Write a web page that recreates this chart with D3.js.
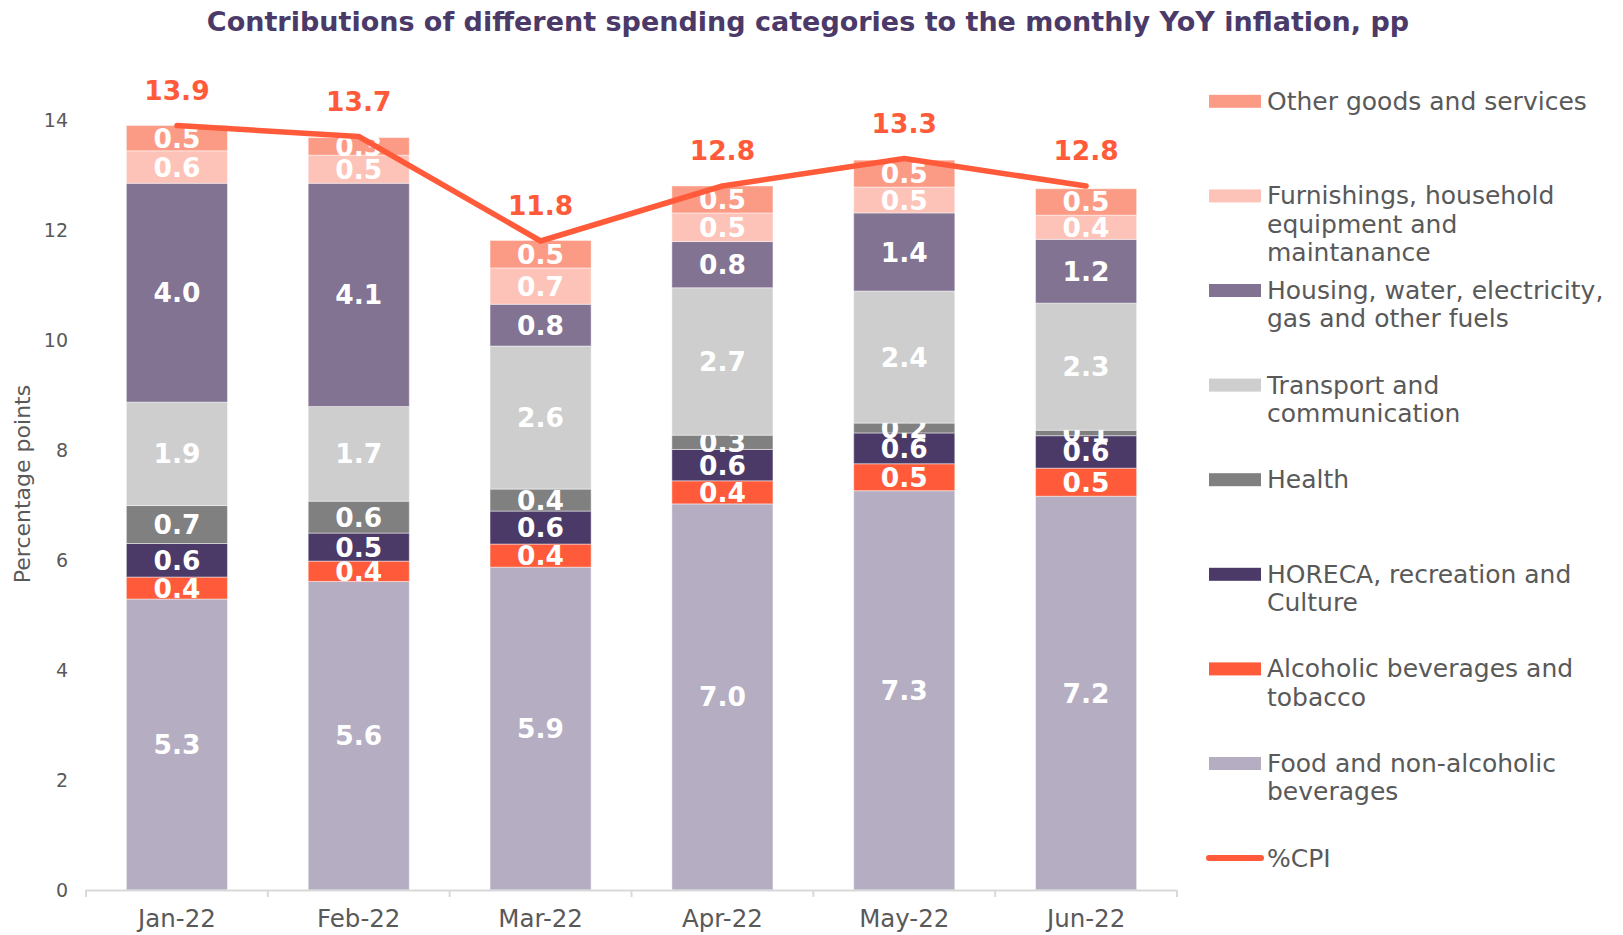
<!DOCTYPE html>
<html>
<head>
<meta charset="utf-8">
<script src="https://cdn.jsdelivr.net/npm/d3@7"></script>
<style>
  body { margin: 0; background: #fff; }
  svg { display: block; font-family: "DejaVu Sans", sans-serif; }
</style>
</head>
<body>
<svg id="chart" width="1623" height="935"></svg>
<script>
// values (pp)
var months = ['Jan-22', 'Feb-22', 'Mar-22', 'Apr-22', 'May-22', 'Jun-22'];
var food = [5.29, 5.61, 5.87, 7.02, 7.26, 7.16];
var alcohol = [0.40, 0.37, 0.42, 0.42, 0.49, 0.51];
var horeca = [0.61, 0.51, 0.60, 0.57, 0.56, 0.59];
var health = [0.69, 0.58, 0.40, 0.26, 0.18, 0.10];
var transport = [1.88, 1.72, 2.60, 2.68, 2.40, 2.31];
var housing = [3.98, 4.06, 0.76, 0.84, 1.42, 1.16];
var furnishings = [0.59, 0.51, 0.66, 0.52, 0.47, 0.44];
var other = [0.46, 0.32, 0.50, 0.49, 0.49, 0.48];
var cpi = [13.9, 13.7, 11.8, 12.8, 13.3, 12.8];
var yTicks = [0, 2, 4, 6, 8, 10, 12, 14];

// bottom to top
var series = [
  {key: 'food', name: ['Food and non-alcoholic', 'beverages'], color: '#b5aec2', values: food},
  {key: 'alcohol', name: ['Alcoholic beverages and', 'tobacco'], color: '#ff5b3a', values: alcohol},
  {key: 'horeca', name: ['HORECA, recreation and', 'Culture'], color: '#4b3a68', values: horeca},
  {key: 'health', name: ['Health'], color: '#808080', values: health},
  {key: 'transport', name: ['Transport and', 'communication'], color: '#cdcecd', values: transport},
  {key: 'housing', name: ['Housing, water, electricity,', 'gas and other fuels'], color: '#827393', values: housing},
  {key: 'furnishings', name: ['Furnishings, household', 'equipment and', 'maintanance'], color: '#fdc3b8', values: furnishings},
  {key: 'other', name: ['Other goods and services'], color: '#fc9b85', values: other}
];
var cpiColor = '#ff5b3a';

var rows = months.map(function(m, i) {
  var row = {month: m};
  series.forEach(function(s) { row[s.key] = s.values[i]; });
  return row;
});

var svg = d3.select('#chart');

var x = d3.scaleBand()
  .domain(months)
  .range([86, 1177])
  .paddingInner(0.444)
  .paddingOuter(0.222);

var y = d3.scaleLinear()
  .domain([0, 14])
  .range([890, 120]);

// title
svg.append('text')
  .attr('x', 808)
  .attr('y', 31)
  .attr('text-anchor', 'middle')
  .attr('font-size', 27)
  .attr('font-weight', 'bold')
  .attr('fill', '#4b3a68')
  .text('Contributions of different spending categories to the monthly YoY inflation, pp');

// y axis (labels only)
var yAxis = svg.append('g')
  .attr('transform', 'translate(86,0)')
  .call(d3.axisLeft(y).tickValues(yTicks).tickSize(0).tickPadding(18));
yAxis.select('.domain').remove();
yAxis.selectAll('text')
  .attr('font-size', 19)
  .attr('font-family', '"DejaVu Sans", sans-serif')
  .attr('fill', '#595959');

svg.append('text')
  .attr('transform', 'translate(30,484) rotate(-90)')
  .attr('text-anchor', 'middle')
  .attr('font-size', 22)
  .attr('fill', '#595959')
  .text('Percentage points');

// stacked bars
var stack = d3.stack().keys(series.map(function(s) { return s.key; }));
var layers = stack(rows);

var layerG = svg.append('g').selectAll('g')
  .data(layers)
  .join('g')
  .attr('fill', function(d, i) { return series[i].color; });

layerG.selectAll('rect')
  .data(function(d) { return d; })
  .join('rect')
  .attr('x', function(d) { return x(d.data.month); })
  .attr('width', x.bandwidth())
  .attr('y', function(d) { return y(d[1]); })
  .attr('height', function(d) { return y(d[0]) - y(d[1]); })
  .attr('stroke', 'rgba(255,255,255,0.45)')
  .attr('stroke-width', 1);

// x axis
svg.append('line')
  .attr('x1', x.range()[0])
  .attr('x2', x.range()[1])
  .attr('y1', y(0) + 0.5)
  .attr('y2', y(0) + 0.5)
  .attr('stroke', '#d9d9d9')
  .attr('stroke-width', 2);

var bounds = months.map(function(m) { return x(m) - x.step() * x.paddingInner() / 2; });
bounds.push(x.range()[1]);
svg.append('g').selectAll('line')
  .data(bounds)
  .join('line')
  .attr('x1', function(d) { return d; })
  .attr('x2', function(d) { return d; })
  .attr('y1', y(0))
  .attr('y2', y(0) + 7)
  .attr('stroke', '#d9d9d9')
  .attr('stroke-width', 2);

var xAxis = svg.append('g')
  .attr('transform', 'translate(0,' + y(0) + ')')
  .call(d3.axisBottom(x).tickSize(0).tickPadding(20));
xAxis.select('.domain').remove();
xAxis.selectAll('text')
  .attr('font-size', 24.5)
  .attr('font-family', '"DejaVu Sans", sans-serif')
  .attr('fill', '#595959');

// segment labels
layerG.selectAll('text')
  .data(function(d) { return d; })
  .join('text')
  .attr('x', function(d) { return x(d.data.month) + x.bandwidth() / 2; })
  .attr('y', function(d) { return (y(d[0]) + y(d[1])) / 2; })
  .attr('dy', '0.36em')
  .attr('text-anchor', 'middle')
  .attr('font-size', 26.5)
  .attr('font-weight', 'bold')
  .attr('fill', '#fff')
  .text(function(d) { return (d[1] - d[0]).toFixed(1); });

// CPI line
var line = d3.line()
  .x(function(d, i) { return x(months[i]) + x.bandwidth() / 2; })
  .y(function(d) { return y(d); });

svg.append('path')
  .datum(cpi)
  .attr('d', line)
  .attr('fill', 'none')
  .attr('stroke', cpiColor)
  .attr('stroke-width', 5.5)
  .attr('stroke-linecap', 'round')
  .attr('stroke-linejoin', 'round');

svg.append('g').selectAll('text')
  .data(cpi)
  .join('text')
  .attr('x', function(d, i) { return x(months[i]) + x.bandwidth() / 2; })
  .attr('y', function(d) { return y(d) - 26; })
  .attr('text-anchor', 'middle')
  .attr('font-size', 26.5)
  .attr('font-weight', 'bold')
  .attr('fill', cpiColor)
  .text(function(d) { return d.toFixed(1); });

// legend, top to bottom
var legendItems = series.slice().reverse().map(function(s) {
  return {name: s.name, color: s.color, type: 'box'};
});
legendItems.push({name: ['%CPI'], color: cpiColor, type: 'line'});

var legend = svg.append('g').selectAll('g')
  .data(legendItems)
  .join('g')
  .attr('transform', function(d, i) { return 'translate(1209,' + (101.3 + i * 94.6) + ')'; });

legend.filter(function(d) { return d.type == 'box'; })
  .append('rect')
  .attr('x', 0)
  .attr('y', -6.5)
  .attr('width', 52)
  .attr('height', 13)
  .attr('fill', function(d) { return d.color; });

legend.filter(function(d) { return d.type == 'line'; })
  .append('line')
  .attr('x1', 0)
  .attr('x2', 52)
  .attr('stroke', function(d) { return d.color; })
  .attr('stroke-width', 6)
  .attr('stroke-linecap', 'round');

legend.append('text')
  .attr('x', 58)
  .attr('y', 8.5)
  .attr('font-size', 25)
  .attr('fill', '#595959')
  .selectAll('tspan')
  .data(function(d) { return d.name; })
  .join('tspan')
  .attr('x', 58)
  .attr('dy', function(d, i) { return i == 0 ? 0 : 28.3; })
  .text(function(d) { return d; });
</script>
</body>
</html>
